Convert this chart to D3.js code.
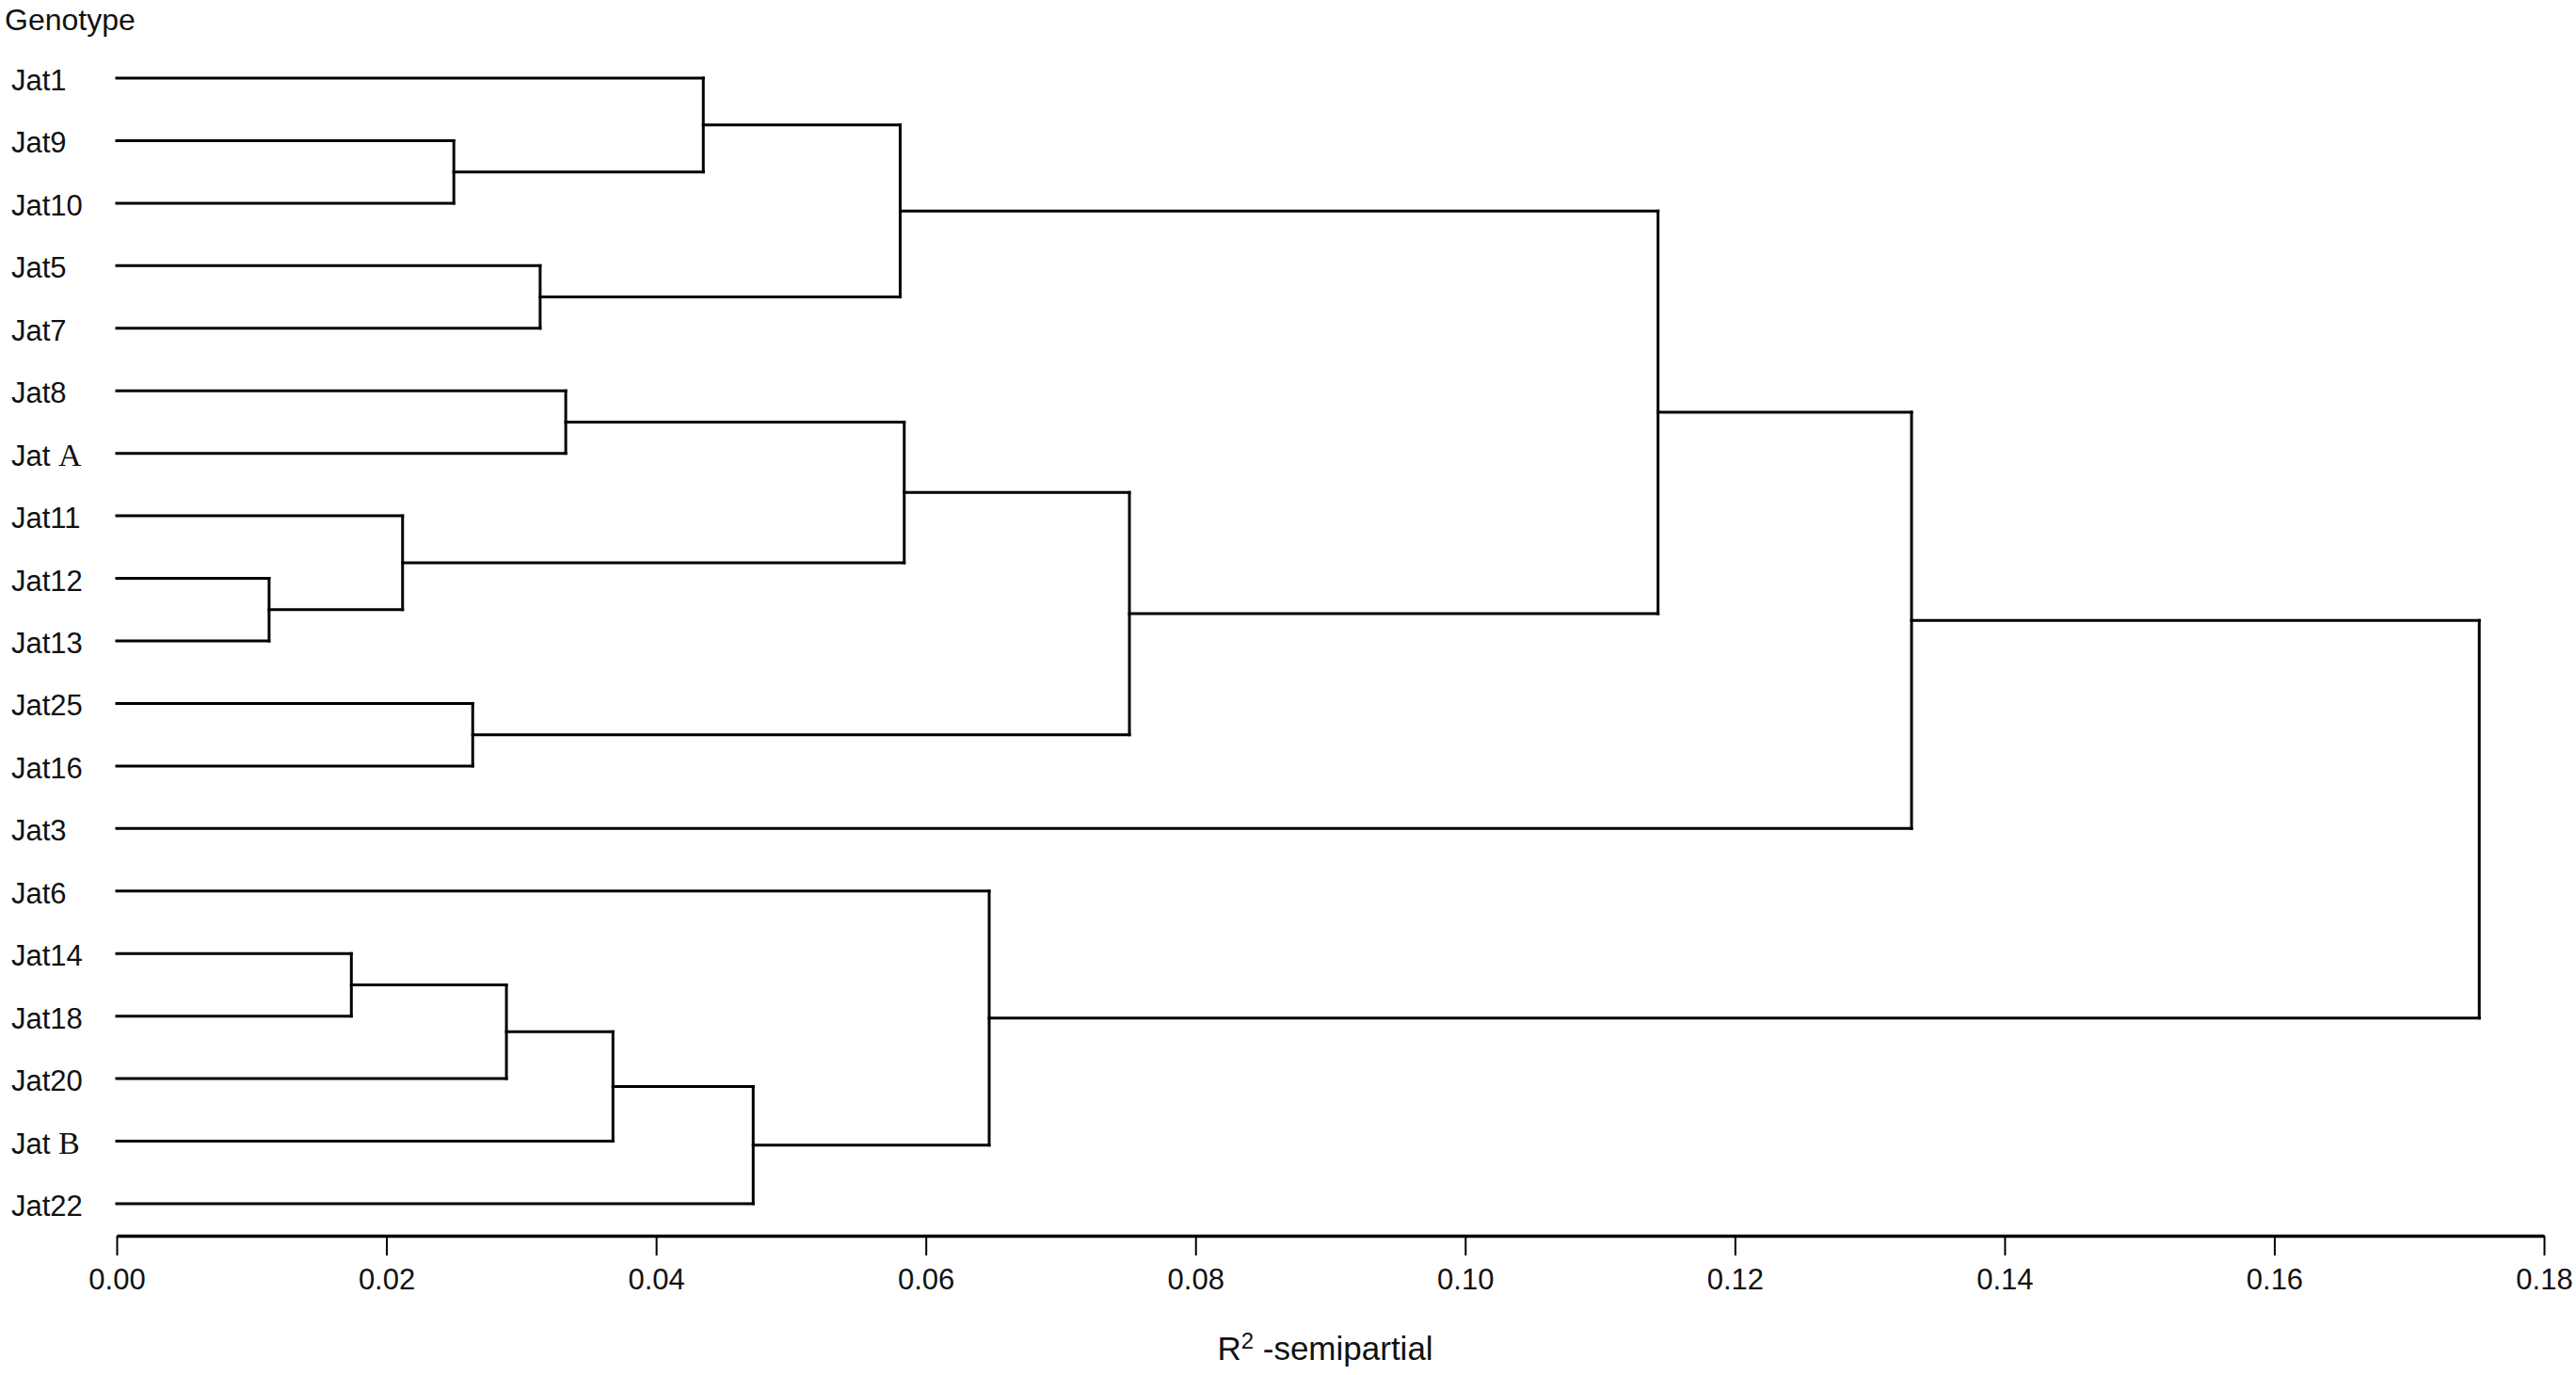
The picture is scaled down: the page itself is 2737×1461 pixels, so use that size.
<!DOCTYPE html>
<html>
<head>
<meta charset="utf-8">
<script src="https://cdn.jsdelivr.net/npm/d3@7"></script>
<style>
  html, body { margin: 0; padding: 0; background: #fff; }
  svg { display: block; }
  text { font-family: "Liberation Sans", Arial, sans-serif; fill: #111; }
</style>
</head>
<body>
<svg id="chart" width="2737" height="1461"></svg>
<script>
// Leaf order (top to bottom)
const genotypes = ["Jat1","Jat9","Jat10","Jat5","Jat7","Jat8","Jat A","Jat11","Jat12","Jat13",
                   "Jat25","Jat16","Jat3","Jat6","Jat14","Jat18","Jat20","Jat B","Jat22"];
// Merge steps: id, first child, second child, R²-semipartial height
const mergeIds    = ["C1","C2","C3","C4","C5","C6","C7","C8","C9","C10","C11","C12","C13","C14","C15","C16","C17","C18"];
const mergeLeft   = ["Jat9","Jat1","Jat5","C2","Jat8","Jat12","Jat11","C5","Jat25","C8","C4","C11","Jat14","C13","C14","C15","Jat6","C12"];
const mergeRight  = ["Jat10","C1","Jat7","C3","Jat A","Jat13","C6","C7","Jat16","C9","C10","Jat3","Jat18","Jat20","Jat B","Jat22","C16","C17"];
const mergeHeight = [0.0250,0.0435,0.0314,0.0581,0.0333,0.0113,0.0212,0.0584,0.0264,0.0751,0.1143,0.1331,0.0174,0.0289,0.0368,0.0472,0.0647,0.1752];
const xTicks = [0.00,0.02,0.04,0.06,0.08,0.10,0.12,0.14,0.16,0.18];

const svg = d3.select("#chart");
const x = d3.scaleLinear().domain([0, 0.18]).range([124, 2703]);
const y = d3.scalePoint().domain(genotypes).range([83, 1279]);

// node positions
const pos = {};
genotypes.forEach(g => pos[g] = {x: x(0), y: y(g)});
const segs = [];
mergeIds.forEach((id, i) => {
  const a = pos[mergeLeft[i]], b = pos[mergeRight[i]];
  const hx = x(mergeHeight[i]);
  segs.push([a.x, a.y, hx, a.y]);
  segs.push([b.x, b.y, hx, b.y]);
  segs.push([hx, a.y, hx, b.y]);
  pos[id] = {x: hx, y: (a.y + b.y) / 2};
});

svg.append("g")
  .attr("stroke", "#000")
  .attr("stroke-width", 3)
  .attr("stroke-linecap", "square")
  .selectAll("line").data(segs).join("line")
  .attr("x1", d => d[0]).attr("y1", d => d[1])
  .attr("x2", d => d[2]).attr("y2", d => d[3]);

// leaf labels
const lab = svg.append("g").attr("font-size", 31)
  .selectAll("text").data(genotypes).join("text")
  .attr("x", 12).attr("y", d => y(d) + 13);
lab.each(function(d) {
  const t = d3.select(this);
  const m = d.match(/^Jat (\w)$/);
  if (m) {
    t.append("tspan").text("Jat ");
    t.append("tspan").attr("font-family", "'Liberation Serif', 'Times New Roman', serif")
      .attr("font-size", 34).text(m[1]);
  } else {
    t.text(d);
  }
});

svg.append("text").attr("x", 5).attr("y", 32).attr("font-size", 32).text("Genotype");

// x axis
const axis = d3.axisBottom(x).tickValues(xTicks).tickFormat(d3.format(".2f"))
  .tickSize(21).tickSizeOuter(0).tickPadding(14);
const gAx = svg.append("g").attr("transform", "translate(0,1313)").call(axis);
gAx.select(".domain").attr("stroke", "#000").attr("stroke-width", 3.5);
gAx.selectAll(".tick line").attr("stroke", "#000").attr("stroke-width", 2);
gAx.selectAll(".tick text").attr("font-size", 31)
  .attr("font-family", "'Liberation Sans', Arial, sans-serif").attr("fill", "#111");

const title = svg.append("text").attr("x", 1408).attr("y", 1445)
  .attr("text-anchor", "middle").attr("font-size", 35);
title.append("tspan").text("R");
title.append("tspan").attr("font-size", 24).attr("dy", -12).text("2");
title.append("tspan").attr("dy", 12).text(" -semipartial");
</script>
</body>
</html>
